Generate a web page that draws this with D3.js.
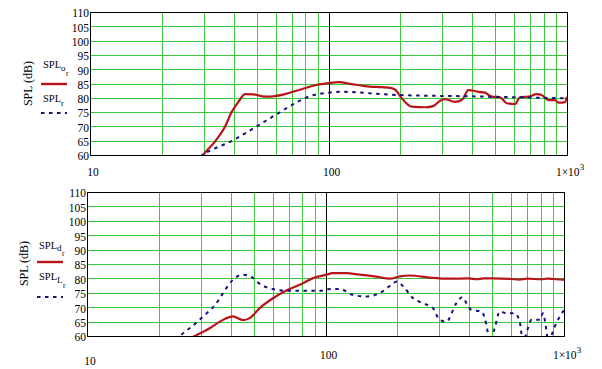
<!DOCTYPE html>
<html><head><meta charset="utf-8">
<script src="https://cdn.jsdelivr.net/npm/d3@7"></script>
<style>
body{margin:0;background:#fff;}
svg{display:block;}
text{font-family:"Liberation Serif","Times New Roman",serif;fill:#000;}
</style></head>
<body>
<svg id="c" width="602" height="369"></svg>
<script>
// ---------- data ----------
const yTicks = [60,65,70,75,80,85,90,95,100,105,110];
const xMinor = [20,30,40,50,60,70,80,90,200,300,400,500,600,700,800,900];
const xMajor = [10,100,1000];
const xLabels = ["10","100","1×10"];

// top panel: SPL_o (red) and SPL_r (blue dashed)
const fO = [29,30,33.4,36.8,39.3,41.9,44.7,48.4,54.2,59.7,67.8,77.2,87.8,99.8,110,125,142,167,182,192,200,209,223,254,275,294,308,339,362,386,425,453,483,524,559,605,635,689,747,783,835,891,920,981,1000];
const spO = [58.5,60.3,64.7,69.9,75.1,78.6,81.3,81.2,80.4,80.6,81.6,83.0,84.4,85.1,85.5,84.8,84.1,83.7,83.5,82.6,80.5,78.6,76.9,76.7,77.1,79.0,79.5,78.6,79.2,82.7,82.1,81.8,80.4,80.2,78.1,77.8,80.2,80.4,81.3,81.0,79.2,79.2,78.3,78.5,80.4];
const fR = [29,30,39.9,48.4,60.7,72.4,83.6,100,113,190,400,1000];
const spR = [59.5,60.3,65.2,69.3,74.3,78.1,80.6,81.8,82.1,81.0,80.5,79.8];

// bottom panel: SPL_d (red) and SPL_L (blue dashed)
const fD = [27.5,28.3,32.7,37.2,40.9,45.1,48.1,53,60.2,68.5,78,88.7,101,107,122,139,163,186,205,225,273,326,400,430,460,500,600,650,700,800,850,900,1000];
const spD = [59.5,60,62.7,65.6,66.8,65.5,66.2,69.7,73.1,75.8,77.8,80.1,81.3,81.8,81.8,81.3,80.6,79.9,80.7,81.0,80.3,79.9,80.0,79.7,80.0,80.0,79.8,79.6,79.9,79.7,79.9,79.8,79.5];
const fL = [23.5,24.5,28,30.6,34.9,37.2,40.9,45.1,48.9,53,60.2,70.8,97.7,104,115,130,148,169,189,199,215,233,256,282,301,321,354,375,390,409,451,473,488,512,538,574,622,652,673,706,730,791,816,843,857,914,959,1000];
const spL = [58.5,60,63.8,66.7,71.4,74.9,79.5,81.3,80.5,78.1,76.3,75.7,75.7,76.3,76.3,74.3,73.7,74.9,77.8,78.9,76.6,73.1,71.4,69.7,65.6,65.0,71.4,73.5,71.4,69.1,68.5,63.8,58,62.7,68.5,67.9,67.9,65.0,58,62.7,65.6,65.6,67.9,62.1,58,63.2,66.7,69];

// ---------- drawing ----------
const svg = d3.select("#c");
const GRID = "#3cc83c", RED = "#b8141a", BLUE = "#12127e";

function panel(cfg){
  const x = d3.scaleLog().domain([10,1000]).range([cfg.x0, cfg.x1]);
  const y = d3.scaleLinear().domain([60,110]).range([cfg.y0, cfg.y1]);
  const g = svg.append("g");
  const id = "clip"+cfg.id;
  svg.append("clipPath").attr("id",id).append("rect")
    .attr("x",cfg.x0).attr("y",cfg.y1).attr("width",cfg.x1-cfg.x0).attr("height",cfg.y0-cfg.y1);
  // grid
  g.selectAll(".hg").data(yTicks.slice(1,-1)).join("line")
    .attr("x1",cfg.x0).attr("x2",cfg.x1)
    .attr("y1",d=>Math.round(y(d))+0.5).attr("y2",d=>Math.round(y(d))+0.5)
    .attr("stroke",GRID).attr("stroke-width",1);
  g.selectAll(".vg").data(xMinor).join("line")
    .attr("x1",d=>Math.round(x(d))+0.5).attr("x2",d=>Math.round(x(d))+0.5)
    .attr("y1",cfg.y1).attr("y2",cfg.y0)
    .attr("stroke",GRID).attr("stroke-width",1);
  g.append("line")
    .attr("x1",Math.round(x(100))+0.5).attr("x2",Math.round(x(100))+0.5)
    .attr("y1",cfg.y1).attr("y2",cfg.y0).attr("stroke","#000");
  // y axis labels via d3 axis
  const ya = d3.axisLeft(y).tickValues(yTicks).tickSize(0).tickPadding(0);
  const yg = svg.append("g").attr("transform",`translate(${cfg.x0-1},0)`).call(ya);
  yg.select(".domain").remove();
  yg.selectAll("text").attr("font-family","Liberation Serif").attr("font-size",11.5).attr("dy","0.42em").attr("fill","#000");
  // x labels
  const xl = svg.append("g");
  xMajor.forEach((v,i)=>{
    const t = xl.append("text").attr("x",x(v)+3).attr("y",cfg.xlY[i])
      .attr("text-anchor","middle").attr("font-size",11.5).text(xLabels[i]);
    if(i===2){ t.append("tspan").attr("dy",-6).attr("font-size",9).text("3"); }
  });
  // lines
  const lg = svg.append("g").attr("clip-path",`url(#${id})`);
  const line = d3.line().x(d=>x(d[0])).y(d=>y(d[1])).curve(d3.curveMonotoneX);
  lg.append("path").datum(d3.zip(cfg.rf,cfg.rv)).attr("d",line)
    .attr("fill","none").attr("stroke",RED).attr("stroke-width",2.2);
  lg.append("path").datum(d3.zip(cfg.bf,cfg.bv)).attr("d",line)
    .attr("fill","none").attr("stroke",BLUE).attr("stroke-width",2).attr("stroke-dasharray","3.5,4.5");
  // frame
  svg.append("rect").attr("x",cfg.x0+0.5).attr("y",cfg.y1+0.5)
    .attr("width",cfg.x1-cfg.x0).attr("height",cfg.y0-cfg.y1)
    .attr("fill","none").attr("stroke","#000");
  // y title
  svg.append("text").attr("transform",`translate(${cfg.tx},${cfg.ty}) rotate(-90)`)
    .attr("text-anchor","middle").attr("font-size",12).text("SPL (dB)");
  // legend
  const L = cfg.leg;
  const t1 = svg.append("text").attr("x",L.x).attr("y",L.y1).attr("font-size",10.5);
  t1.append("tspan").text("SPL");
  t1.append("tspan").attr("dy",2.5).attr("font-size",9).text(L.s1);
  t1.append("tspan").attr("dy",5).attr("dx",0.5).attr("font-size",7.5).text("r");
  svg.append("line").attr("x1",L.lx0).attr("x2",L.lx1).attr("y1",L.ly1).attr("y2",L.ly1)
    .attr("stroke",RED).attr("stroke-width",2.4);
  const t2 = svg.append("text").attr("x",L.x).attr("y",L.y2).attr("font-size",10.5);
  t2.append("tspan").text("SPL");
  if(L.s2){
    t2.append("tspan").attr("dy",2.5).attr("font-size",9).text(L.s2);
    t2.append("tspan").attr("dy",5).attr("dx",0.5).attr("font-size",7.5).text("r");
  } else {
    t2.append("tspan").attr("dy",4).attr("font-size",8).text("r");
  }
  svg.append("line").attr("x1",L.lx0).attr("x2",L.lx1).attr("y1",L.ly2).attr("y2",L.ly2)
    .attr("stroke",BLUE).attr("stroke-width",2).attr("stroke-dasharray","3.5,4.5");
}

panel({id:1,x0:90,x1:567,y0:155,y1:12,xlY:[176,176,176],tx:31.5,ty:83.5,
  rf:fO,rv:spO,bf:fR,bv:spR,
  leg:{x:43,y1:68,y2:101.5,s1:"o",s2:null,lx0:41,lx1:67,ly1:84,ly2:113}});
panel({id:2,x0:87,x1:564,y0:336,y1:192,xlY:[365,359,359],tx:27.5,ty:263.5,
  rf:fD,rv:spD,bf:fL,bv:spL,
  leg:{x:39,y1:248.5,y2:280,s1:"d",s2:"L",lx0:37,lx1:63,ly1:262,ly2:297}});
</script>
</body></html>
